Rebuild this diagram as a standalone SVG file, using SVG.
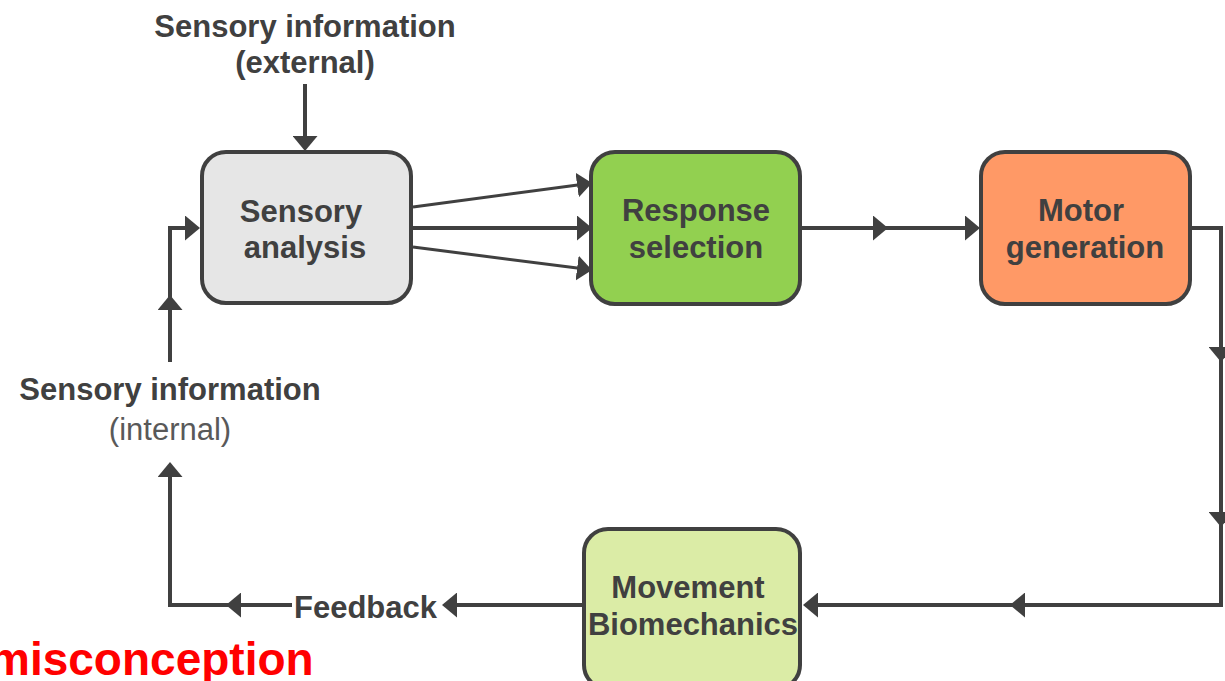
<svg xmlns="http://www.w3.org/2000/svg" width="1225" height="681" viewBox="0 0 1225 681">
  <style>
    .box { stroke: #404040; stroke-width: 4; }
    .lbl { font-family: "Liberation Sans", Arial, sans-serif; font-weight: bold; font-size: 31px; fill: #404040; text-anchor: middle; }
    .sub { font-family: "Liberation Sans", Arial, sans-serif; font-size: 31px; fill: #595959; text-anchor: middle; }
    .wire { fill: none; stroke: #404040; stroke-width: 4; stroke-linejoin: miter; }
    .thin { stroke-width: 3; }
    .warn { font-family: "Liberation Sans", Arial, sans-serif; font-weight: bold; font-size: 46px; fill: #ff0000; }
  </style>
  <defs>
    <marker id="arrow" viewBox="0 0 15 25" refX="12" refY="12.5" markerWidth="15" markerHeight="25" markerUnits="userSpaceOnUse" orient="auto">
      <path d="M0,0 L15,12.5 L0,25 z" fill="#404040"/>
    </marker>
  </defs>

  <rect width="1225" height="681" fill="#ffffff"/>

  <!-- connectors -->
  <g id="connectors">
    <!-- external sensory input -->
    <line class="wire" x1="305" y1="84" x2="305" y2="148" marker-end="url(#arrow)"/>
    <!-- sensory analysis to response selection -->
    <line class="wire thin" x1="413" y1="207" x2="589" y2="183.4" marker-end="url(#arrow)"/>
    <line class="wire" x1="413" y1="228" x2="589" y2="228" marker-end="url(#arrow)"/>
    <line class="wire thin" x1="413" y1="247" x2="589" y2="269.6" marker-end="url(#arrow)"/>
    <!-- response selection to motor generation -->
    <line class="wire" x1="802" y1="228" x2="885" y2="228" marker-end="url(#arrow)"/>
    <line class="wire" x1="885" y1="228" x2="977" y2="228" marker-end="url(#arrow)"/>
    <!-- motor generation down and back to movement -->
    <polyline class="wire" points="1192,228 1221,228 1221,359" marker-end="url(#arrow)"/>
    <line class="wire" x1="1221" y1="359" x2="1221" y2="524" marker-end="url(#arrow)"/>
    <polyline class="wire" points="1221,524 1221,605 1013,605" marker-end="url(#arrow)"/>
    <line class="wire" x1="1013" y1="605" x2="806" y2="605" marker-end="url(#arrow)"/>
    <!-- movement to feedback -->
    <line class="wire" x1="584" y1="605" x2="445" y2="605" marker-end="url(#arrow)"/>
    <!-- feedback back to internal sensory information -->
    <line class="wire" x1="292" y1="605" x2="229" y2="605" marker-end="url(#arrow)"/>
    <polyline class="wire" points="229,605 170,605 170,465" marker-end="url(#arrow)"/>
    <!-- internal sensory information into sensory analysis -->
    <line class="wire" x1="170" y1="362" x2="170" y2="298" marker-end="url(#arrow)"/>
    <polyline class="wire" points="170,298 170,228 197,228" marker-end="url(#arrow)"/>
  </g>

  <g id="sensory-external">
    <text class="lbl" x="305" y="37">Sensory information</text>
    <text class="lbl" x="305" y="73">(external)</text>
  </g>

  <g id="sensory-analysis">
    <rect class="box" x="202" y="152" width="209" height="151" rx="24" fill="#e6e6e6"/>
    <text class="lbl" x="301" y="222">Sensory</text>
    <text class="lbl" x="305" y="258">analysis</text>
  </g>

  <g id="response-selection">
    <rect class="box" x="591" y="152" width="209" height="152" rx="24" fill="#92d050"/>
    <text class="lbl" x="696" y="221">Response</text>
    <text class="lbl" x="696" y="258">selection</text>
  </g>

  <g id="motor-generation">
    <rect class="box" x="981" y="152" width="209" height="152" rx="24" fill="#ff9966"/>
    <text class="lbl" x="1081" y="221">Motor</text>
    <text class="lbl" x="1085" y="258">generation</text>
  </g>

  <g id="movement-biomechanics">
    <rect class="box" x="584" y="529" width="216" height="160" rx="24" fill="#dbeca6"/>
    <text class="lbl" x="688" y="598">Movement</text>
    <text class="lbl" x="693" y="635">Biomechanics</text>
  </g>

  <g id="feedback">
    <text class="lbl" x="294" y="618" style="text-anchor: start">Feedback</text>
  </g>

  <g id="sensory-internal">
    <text class="lbl" x="170" y="400">Sensory information</text>
    <text class="sub" x="170" y="440">(internal)</text>
  </g>

  <g id="caption">
    <text class="warn" x="-11" y="675">misconception</text>
  </g>
</svg>
